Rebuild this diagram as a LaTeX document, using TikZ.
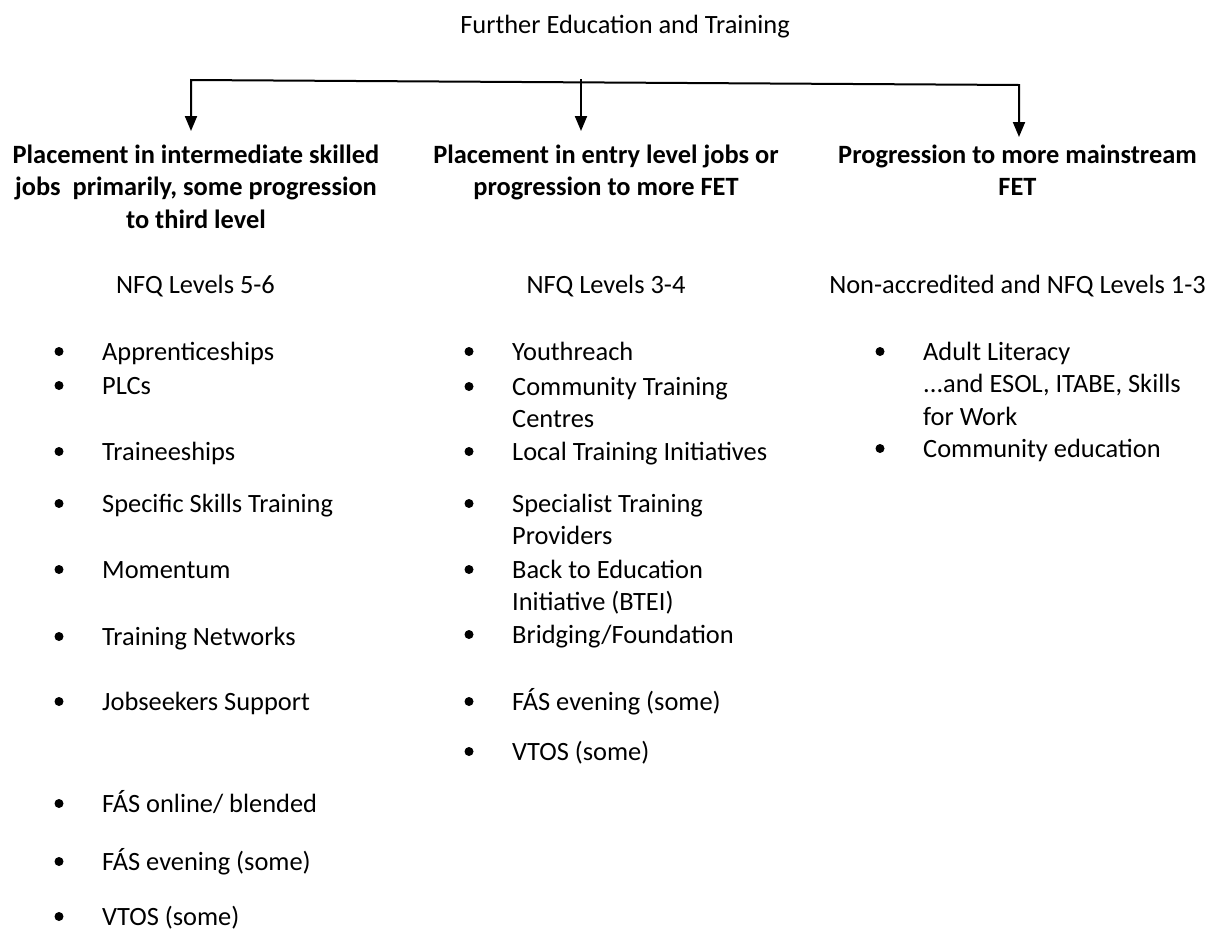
\documentclass[tikz,border=0pt]{standalone}
\usepackage{fontspec}
\setmainfont{Carlito}
\usetikzlibrary{arrows.meta}

% lines stacked in a top-aligned column, baseline = first line
\newcommand\stacked[2][l]{\begin{tabular}[t]{@{}#1@{}}#2\end{tabular}}

\tikzset{
  txt/.style={inner sep=0pt, anchor=base, font=\fontsize{26.4pt}{32.5pt}\selectfont},
  head/.style={txt, font=\fontsize{26.4pt}{32.5pt}\selectfont\bfseries},
  itemtext/.style={txt, anchor=base west},
  tip/.style={Triangle[width=12pt,length=15pt]},
  flow/.style={line width=2pt, -{Triangle[width=12pt,length=15pt]}},
  branch/.style={line width=2pt, {Triangle[width=12pt,length=15pt]}-{Triangle[width=12pt,length=15pt]}}
}

% bulleted entry: name, x, first baseline, text
\newcommand\entry[4]{%
  \node[itemtext] (#1) at (#2,#3) {\stacked{#4}};
  \fill ([xshift=-43pt,yshift=8.5pt]#1.base west) circle (4.5pt);}

\begin{document}
\begin{tikzpicture}[x=1pt,y=-1pt]
\useasboundingbox (0,0) rectangle (1215,932);

% title
\node[txt, anchor=base east] (title) at (790,33) {Further Education and Training};

% branching connector
\coordinate (jl) at (191,80);
\coordinate (jr) at (1019,85);
\coordinate (jm) at (581,79);
\coordinate (tl) at (191,131);
\coordinate (tm) at (581,131);
\coordinate (tr) at (1019,137);
\draw[branch] (tl) -- (jl) -- (jr) -- (tr);
\draw[flow] (jm) -- (tm);

% column headings
\node[head] (h1) at (196,163) {\stacked[c]{Placement in intermediate skilled\\jobs\ \ primarily, some progression\\to third level}};
\node[head] (h2) at (606,163) {\stacked[c]{Placement in entry level jobs or\\progression to more FET}};
\node[head] (h3) at (1017.5,163) {\stacked[c]{Progression to more mainstream\\FET}};

% levels
\node[txt] (l1) at (195.5,293) {NFQ Levels 5-6};
\node[txt] (l2) at (606,293) {NFQ Levels 3-4};
\node[txt] (l3) at (1017.5,293) {Non-accredited and NFQ Levels 1-3};

% column 1
\entry{a1}{102}{360}{Apprenticeships}
\entry{a2}{102}{394}{PLCs}
\entry{a3}{102}{460}{Traineeships}
\entry{a4}{102}{512}{Specific Skills Training}
\entry{a5}{102}{578}{Momentum}
\entry{a6}{102}{645}{Training Networks}
\entry{a7}{102}{710}{Jobseekers Support}
\entry{a8}{102}{812}{FÁS online/ blended}
\entry{a9}{102}{870}{FÁS evening (some)}
\entry{a10}{102}{925}{VTOS (some)}

% column 2
\entry{b1}{512}{360}{Youthreach}
\entry{b2}{512}{395}{Community Training\\Centres}
\entry{b3}{512}{460}{Local Training Initiatives}
\entry{b4}{512}{512}{Specialist Training\\Providers}
\entry{b5}{512}{578}{Back to Education\\Initiative (BTEI)}
\entry{b6}{512}{643}{Bridging/Foundation}
\entry{b7}{512}{710}{FÁS evening (some)}
\entry{b8}{512}{760}{VTOS (some)}

% column 3
\entry{c1}{923}{360}{Adult Literacy\\...and ESOL, ITABE, Skills\\for Work}
\entry{c2}{923}{457}{Community education}
\end{tikzpicture}
\end{document}
